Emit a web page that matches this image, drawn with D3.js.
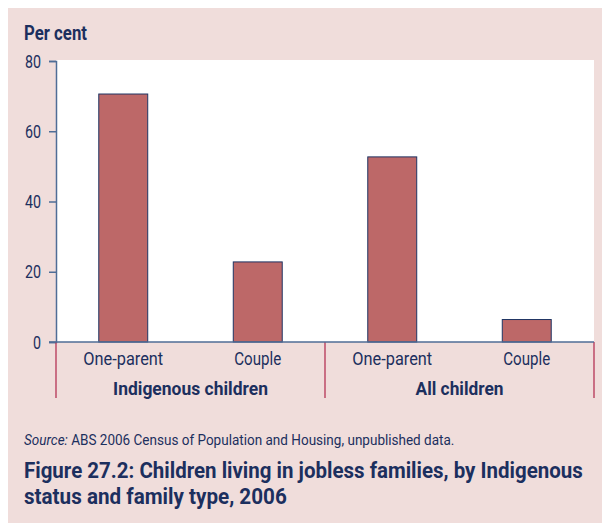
<!DOCTYPE html>
<html>
<head>
<meta charset="utf-8">
<script src="https://cdn.jsdelivr.net/npm/d3@7"></script>
<style>
  html, body { margin: 0; padding: 0; background: #fff; }
  svg { display: block; }
  text { font-family: Roboto, "Open Sans", sans-serif; fill: #1c2f5e; }
</style>
</head>
<body>
<svg id="chart" width="602" height="523"></svg>
<script>
// Children living in jobless families, by Indigenous status and family type, 2006
const groups = ["Indigenous children", "All children"];
const familyTypes = ["One-parent", "Couple", "One-parent", "Couple"];
const groupOfBar = [0, 0, 1, 1];
const values = [70.6, 22.8, 52.7, 6.4];
const yTicks = [0, 20, 40, 60, 80];

const W = 602, H = 523;
const plot = { left: 56, right: 594, top: 61, bottom: 342 };

// narrow-set typography: squeeze each label horizontally to its set width,
// scaling about the text's anchor point
const setWidth = {
  "Per cent": 63, "One-parent": 80, "Couple": 47,
  "Indigenous children": 155, "All children": 88,
  "0": 8, "20": 16, "40": 16, "60": 16, "80": 16
};
function condense(sel, widthOf) {
  sel.each(function (d) {
    const w = widthOf(d, this);
    if (!w) return;
    const natural = this.getComputedTextLength();
    const k = w / natural;
    const ax = +this.getAttribute("x") || 0;
    const prev = this.getAttribute("transform") || "";
    d3.select(this).attr("transform",
      `${prev} translate(${ax},0) scale(${k},1) translate(${-ax},0)`.trim());
  });
}

const svg = d3.select("#chart");

// panel background
svg.append("rect").attr("x", 8).attr("y", 8).attr("width", W - 8).attr("height", H - 8)
  .attr("fill", "#f0dddb");
svg.append("rect").attr("x", plot.left).attr("y", 60)
  .attr("width", plot.right - plot.left).attr("height", plot.bottom - 60)
  .attr("fill", "#ffffff");

const x = d3.scaleBand()
  .domain(d3.range(values.length))
  .range([plot.left, plot.right])
  .paddingInner(0.636)
  .paddingOuter(0.318);

const y = d3.scaleLinear().domain([0, 80]).range([plot.bottom, plot.top]);

// bars
svg.append("g").selectAll("rect").data(values).join("rect")
  .attr("x", (d, i) => x(i))
  .attr("y", d => y(d))
  .attr("width", x.bandwidth())
  .attr("height", d => y(0) - y(d))
  .attr("fill", "#bd6868")
  .attr("stroke", "#1f3463")
  .attr("stroke-width", 1);

// y axis
const yAxis = svg.append("g").attr("transform", `translate(${plot.left},0)`)
  .call(d3.axisLeft(y).tickValues(yTicks).tickSize(7).tickPadding(8));
yAxis.select(".domain").attr("stroke", "#4f6d96").attr("stroke-width", 1.5);
yAxis.selectAll(".tick line").attr("stroke", "#4f6d96").attr("stroke-width", 1.5);
yAxis.selectAll(".tick text").attr("font-size", 18).attr("font-family", null)
  .style("fill", "#1c2f5e").attr("dy", "0.34em")
  .call(condense, d => setWidth[String(d)]);

// group separators
const sepX = [plot.left, (x(1) + x(2) + x.bandwidth()) / 2, plot.right];
svg.append("g").selectAll("line").data(sepX).join("line")
  .attr("x1", d => d).attr("x2", d => d)
  .attr("y1", plot.bottom).attr("y2", 398)
  .attr("stroke", "#b0254a").attr("stroke-width", 1.2);

// x baseline
svg.append("line").attr("x1", 49).attr("x2", plot.right)
  .attr("y1", y(0)).attr("y2", y(0))
  .attr("stroke", "#4f6d96").attr("stroke-width", 1.5);

// family type labels
svg.append("g").selectAll("text").data(familyTypes).join("text")
  .attr("x", (d, i) => x(i) + x.bandwidth() / 2)
  .attr("y", 365)
  .attr("text-anchor", "middle")
  .attr("font-size", 18.5)
  .text(d => d)
  .call(condense, d => setWidth[d]);

// group labels
svg.append("g").selectAll("text").data(groups).join("text")
  .attr("x", (d, gi) => {
    const idx = groupOfBar.map((g, i) => g === gi ? i : -1).filter(i => i >= 0);
    return (x(idx[0]) + x(idx[idx.length - 1]) + x.bandwidth()) / 2;
  })
  .attr("y", 395)
  .attr("text-anchor", "middle")
  .attr("font-size", 18.5)
  .attr("font-weight", "bold")
  .text(d => d)
  .call(condense, d => setWidth[d]);

// axis title
svg.append("text").attr("x", 24).attr("y", 40)
  .attr("font-size", 19.5).attr("font-weight", "bold").text("Per cent")
  .call(condense, () => setWidth["Per cent"]);

// source note
const src = svg.append("text").attr("x", 24).attr("y", 445.5).attr("font-size", 15);
src.append("tspan").attr("font-style", "italic").text("Source:");
src.append("tspan").text(" ABS 2006 Census of Population and Housing, unpublished data.");
src.call(condense, () => 431);

// figure caption
const captionLines = [
  "Figure 27.2: Children living in jobless families, by Indigenous",
  "status and family type, 2006"
];
const captionWidths = [559, 263];
svg.append("g").selectAll("text").data(captionLines).join("text")
  .attr("x", 24)
  .attr("y", (d, i) => 478 + i * 26.5)
  .attr("font-size", 22.5)
  .attr("font-weight", "bold")
  .text(d => d)
  .call(condense, d => captionWidths[captionLines.indexOf(d)]);
</script>
</body>
</html>
